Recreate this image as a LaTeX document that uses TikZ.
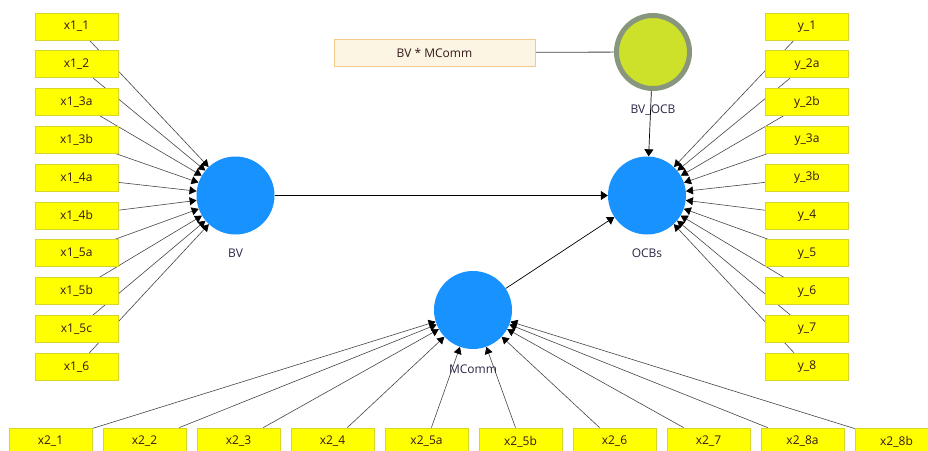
\documentclass[tikz,border=0pt]{standalone}
\usepackage{fontspec}
\setmainfont{Open Sans}
\usetikzlibrary{arrows.meta}
\definecolor{ybord}{RGB}{214,214,40}
\definecolor{yfill}{RGB}{255,255,0}
\definecolor{lvblue}{RGB}{23,146,255}
\definecolor{txt}{RGB}{50,25,25}
\definecolor{lbltxt}{RGB}{45,40,70}
\definecolor{linegray}{RGB}{70,70,70}
\definecolor{modfill}{RGB}{205,225,43}
\definecolor{modbord}{RGB}{135,150,125}
\definecolor{termfill}{RGB}{253,245,228}
\definecolor{termbord}{RGB}{245,200,140}
\pgfdeclarelayer{bg}
\pgfsetlayers{bg,main}
\tikzset{
  ind/.style={draw=ybord, fill=yfill, line width=0.8pt, minimum width=83pt, minimum height=27pt, inner sep=0pt, text=txt, font=\fontsize{12}{14}\selectfont},
  lv/.style={circle, fill=lvblue, minimum size=78pt, inner sep=0pt},
  lbl/.style={text=lbltxt, font=\fontsize{12}{14}\selectfont, inner sep=0pt},
  ld/.style={draw=linegray, line width=0.6pt, -{Triangle[length=7pt,width=8pt,color=black]}},
  pth/.style={draw=black, line width=0.7pt, -{Triangle[length=7pt,width=9pt,color=black]}},
}
\begin{document}
\begin{tikzpicture}[x=1pt,y=-1pt]
\useasboundingbox (0,0) rectangle (928,450);
\clip (0,0) rectangle (928,450);
% latent variables
\node[lv] (BV) at (235.5,195.5) {};
\node[lv] (OCBs) at (647,195.5) {};
\node[lv] (MComm) at (473,310) {};
\node[circle, fill=modfill, draw=modbord, line width=5pt, minimum size=73pt, inner sep=0pt] (BVOCB) at (653,52) {};
\node[lbl] (BVl) at (235.5,253) {BV};
\node[lbl] (OCBsl) at (647,253) {OCBs};
\node[lbl] (McomML) at (473,369) {MComm};
\node[lbl] (BVOCBl) at (653,110) {BV\_OCB};
\node[draw=termbord, fill=termfill, line width=0.8pt, minimum width=201pt, minimum height=27pt, inner sep=0pt, text=txt, font=\fontsize{12}{14}\selectfont] (term) at (434.5,52.5) {BV * MComm};
% indicators
\foreach \t [count=\i] in {x1\_1,x1\_2,x1\_3a,x1\_3b,x1\_4a,x1\_4b,x1\_5a,x1\_5b,x1\_5c,x1\_6}
  \node[ind] (L\i) at (76.5,{26.5+37.8*(\i-1)}) {\t};
\foreach \t [count=\i] in {y\_1,y\_2a,y\_2b,y\_3a,y\_3b,y\_4,y\_5,y\_6,y\_7,y\_8}
  \node[ind] (R\i) at (807,{26.5+37.8*(\i-1)}) {\t};
\foreach \t [count=\i] in {x2\_1,x2\_2,x2\_3,x2\_4,x2\_5a,x2\_5b,x2\_6,x2\_7,x2\_8a,x2\_8b}
  \node[ind] (B\i) at ({50.5+94*(\i-1)},441.5) {\t};
\begin{pgfonlayer}{bg}
\fill[white] (0,0) rectangle (928,450);
\foreach \i in {1,...,10} {
  \draw[ld] (L\i) -- (BV);
  \draw[ld] (R\i) -- (OCBs);
  \draw[ld] (B\i) -- (MComm);
}
\draw[draw=linegray, line width=0.8pt] (BVOCB) -- (term);
\end{pgfonlayer}
\draw[pth] (BV) -- (OCBs);
\draw[pth] (MComm) -- (OCBs);
\draw[pth] (BVOCB) -- (OCBs);
\end{tikzpicture}
\end{document}
